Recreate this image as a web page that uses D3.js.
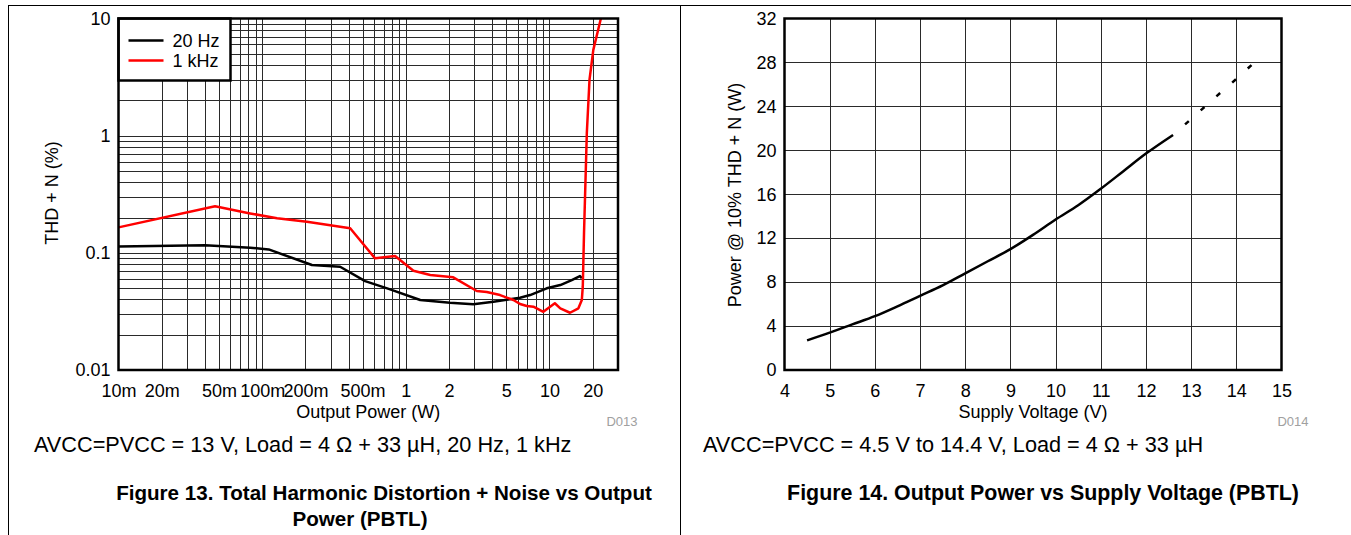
<!DOCTYPE html>
<html>
<head>
<meta charset="utf-8">
<script src="https://cdn.jsdelivr.net/npm/d3@7"></script>
<style>
body { margin: 0; background: #fff; }
svg { display: block; font-family: "Liberation Sans", Arial, Helvetica, sans-serif; }
</style>
</head>
<body>
<svg id="fig" width="1351" height="535"></svg>
<script>
// Figure 13 - THD+N vs output power (log / log)
var power20Hz = [0.01, 0.04, 0.0825, 0.111, 0.222, 0.349, 0.521, 0.778, 1.26, 2.03, 2.95, 4.07, 6.24, 7.33, 9.57, 11.9, 14.3, 16.3, 16.8];
var thd20Hz = [0.113, 0.116, 0.1105, 0.107, 0.0787, 0.0761, 0.0574, 0.0488, 0.0396, 0.0375, 0.0364, 0.0383, 0.0414, 0.0436, 0.0498, 0.0531, 0.0586, 0.0634, 0.0606];
var power1kHz = [0.01, 0.047, 0.0825, 0.127, 0.205, 0.41, 0.611, 0.842, 1.13, 1.48, 2.14, 3.12, 3.66, 4.53, 5.61, 6.24, 6.95, 7.73, 9.07, 10.9, 11.9, 13.9, 15.9, 16.8, 17.06, 17.4, 18.2, 19.0, 20.2, 22.8];
var thd1kHz = [0.165, 0.25, 0.217, 0.197, 0.184, 0.162, 0.0897, 0.094, 0.0703, 0.0647, 0.0618, 0.0472, 0.0463, 0.0436, 0.0396, 0.0366, 0.0352, 0.0347, 0.0314, 0.0371, 0.0336, 0.0308, 0.0336, 0.0396, 0.0514, 0.147, 1.05, 3.0, 5.4, 10];
var powerTicks = [0.01, 0.02, 0.05, 0.1, 0.2, 0.5, 1, 2, 5, 10, 20];
var powerTickLabels = ["10m", "20m", "50m", "100m", "200m", "500m", "1", "2", "5", "10", "20"];
var thdTicks = [0.01, 0.1, 1, 10];
var thdTickLabels = ["0.01", "0.1", "1", "10"];
var legendNames = ["20 Hz", "1 kHz"];
var legendColors = ["#000", "#ff0000"];

// Figure 14 - output power @10% THD+N vs supply voltage
var supplyV = [4.5, 5, 5.5, 6, 6.5, 7, 7.5, 8, 8.5, 9, 9.5, 10, 10.5, 11, 11.5, 12, 12.6];
var powerOut = [2.7, 3.4, 4.15, 4.9, 5.8, 6.75, 7.7, 8.8, 9.9, 11.0, 12.3, 13.7, 15.0, 16.5, 18.1, 19.7, 21.4];
var supplyVExt = [12.6, 13, 13.5, 14, 14.4];
var powerOutExt = [21.4, 22.85, 24.7, 26.5, 28.0];
var voltTicks = [4, 5, 6, 7, 8, 9, 10, 11, 12, 13, 14, 15];
var wattTicks = [0, 4, 8, 12, 16, 20, 24, 28, 32];

var svg = d3.select('#fig');
var gridColor = '#2a2a2a';
var fontSize = 18;
var captionSize = 21.7;

function zip(xs, ys) {
    return xs.map(function (x, i) { return [x, ys[i]]; });
}

// minor gridlines for a log range: 1..9 times each decade
function logGrid(lo, hi) {
    var out = [];
    for (var d = lo; d < hi; d *= 10) {
        for (var k = 1; k <= 9; k++) {
            var v = +(d * k).toPrecision(3);
            if (v > lo && v < hi) out.push(v);
        }
    }
    return out;
}

// page frame
svg.append('line').attr('x1', 8).attr('x2', 1351).attr('y1', 5.5).attr('y2', 5.5).attr('stroke', '#000');
svg.append('line').attr('x1', 8.5).attr('x2', 8.5).attr('y1', 5).attr('y2', 535).attr('stroke', '#000');
svg.append('line').attr('x1', 680.5).attr('x2', 680.5).attr('y1', 5).attr('y2', 535).attr('stroke', '#000');

/* ---------- Figure 13 ---------- */
var p1 = {left: 118.5, right: 618, top: 18.5, bottom: 370};
var x1 = d3.scaleLog().domain([0.01, 30]).range([p1.left, p1.right]);
var y1 = d3.scaleLog().domain([0.01, 10]).range([p1.bottom, p1.top]);
var g1 = svg.append('g');

g1.append('g')
    .attr('transform', 'translate(0,' + p1.bottom + ')')
    .call(d3.axisBottom(x1).tickValues(logGrid(0.01, 30)).tickSize(-(p1.bottom - p1.top)).tickFormat(''))
    .call(function (g) { g.select('.domain').remove(); })
    .selectAll('line').attr('stroke', gridColor).attr('shape-rendering', 'crispEdges');
g1.append('g')
    .attr('transform', 'translate(' + p1.left + ',0)')
    .call(d3.axisLeft(y1).tickValues(logGrid(0.01, 10)).tickSize(-(p1.right - p1.left)).tickFormat(''))
    .call(function (g) { g.select('.domain').remove(); })
    .selectAll('line').attr('stroke', gridColor).attr('shape-rendering', 'crispEdges');

svg.append('clipPath').attr('id', 'clip1').append('rect')
    .attr('x', p1.left).attr('y', p1.top).attr('width', p1.right - p1.left).attr('height', p1.bottom - p1.top);

var line1 = d3.line().x(function (d) { return x1(d[0]); }).y(function (d) { return y1(d[1]); });
g1.append('path').datum(zip(power20Hz, thd20Hz))
    .attr('d', line1).attr('fill', 'none').attr('stroke', legendColors[0]).attr('stroke-width', 2.5)
    .attr('stroke-linejoin', 'round').attr('clip-path', 'url(#clip1)');
g1.append('path').datum(zip(power1kHz, thd1kHz))
    .attr('d', line1).attr('fill', 'none').attr('stroke', legendColors[1]).attr('stroke-width', 2.5)
    .attr('stroke-linejoin', 'round').attr('clip-path', 'url(#clip1)');

// legend box in the top-left corner
var leg = g1.append('g');
leg.append('rect').attr('x', p1.left).attr('y', p1.top).attr('width', 112).attr('height', 62)
    .attr('fill', '#fff').attr('stroke', '#000').attr('stroke-width', 2.5);
legendNames.forEach(function (name, i) {
    var yy = p1.top + 22 + i * 20;
    leg.append('line').attr('x1', p1.left + 10).attr('x2', p1.left + 45).attr('y1', yy).attr('y2', yy)
        .attr('stroke', legendColors[i]).attr('stroke-width', 2.5);
    leg.append('text').attr('x', p1.left + 54).attr('y', yy).attr('dy', '0.35em')
        .attr('font-size', fontSize).text(name);
});

g1.append('rect').attr('x', p1.left).attr('y', p1.top).attr('width', p1.right - p1.left).attr('height', p1.bottom - p1.top)
    .attr('fill', 'none').attr('stroke', '#000').attr('stroke-width', 2.5);

// tick labels
g1.append('g')
    .attr('transform', 'translate(0,' + p1.bottom + ')')
    .call(d3.axisBottom(x1).tickValues(powerTicks).tickSize(0).tickPadding(14)
        .tickFormat(function (d, i) { return powerTickLabels[i]; }))
    .call(function (g) { g.select('.domain').remove(); })
    .selectAll('text').attr('font-size', fontSize).attr('fill', '#000').attr('font-family', null);
g1.append('g')
    .attr('transform', 'translate(' + p1.left + ',0)')
    .call(d3.axisLeft(y1).tickValues(thdTicks).tickSize(0).tickPadding(8)
        .tickFormat(function (d, i) { return thdTickLabels[i]; }))
    .call(function (g) { g.select('.domain').remove(); })
    .selectAll('text').attr('font-size', fontSize).attr('fill', '#000').attr('font-family', null);

g1.append('text').attr('x', (p1.left + p1.right) / 2).attr('y', 418).attr('text-anchor', 'middle')
    .attr('font-size', fontSize).text('Output Power (W)');
g1.append('text').attr('transform', 'translate(58,193) rotate(-90)').attr('text-anchor', 'middle')
    .attr('font-size', fontSize).text('THD + N (%)');
g1.append('text').attr('x', 622).attr('y', 426).attr('text-anchor', 'middle')
    .attr('font-size', 13).attr('fill', '#a0a0a0').text('D013');
g1.append('text').attr('x', 34).attr('y', 452).attr('font-size', captionSize)
    .text('AVCC=PVCC = 13 V, Load = 4 \u03A9 + 33 \u00B5H, 20 Hz, 1 kHz');
g1.append('text').attr('x', 384).attr('y', 500).attr('text-anchor', 'middle').attr('font-size', 20.6).attr('font-weight', 'bold')
    .text('Figure 13. Total Harmonic Distortion + Noise vs Output');
g1.append('text').attr('x', 360).attr('y', 526).attr('text-anchor', 'middle').attr('font-size', 20.6).attr('font-weight', 'bold')
    .text('Power (PBTL)');

/* ---------- Figure 14 ---------- */
var p2 = {left: 784.5, right: 1281.5, top: 18.5, bottom: 370};
var x2 = d3.scaleLinear().domain([4, 15]).range([p2.left, p2.right]);
var y2 = d3.scaleLinear().domain([0, 32]).range([p2.bottom, p2.top]);
var g2 = svg.append('g');

g2.append('g')
    .attr('transform', 'translate(0,' + p2.bottom + ')')
    .call(d3.axisBottom(x2).tickValues(voltTicks.slice(1, -1)).tickSize(-(p2.bottom - p2.top)).tickFormat(''))
    .call(function (g) { g.select('.domain').remove(); })
    .selectAll('line').attr('stroke', gridColor).attr('shape-rendering', 'crispEdges');
g2.append('g')
    .attr('transform', 'translate(' + p2.left + ',0)')
    .call(d3.axisLeft(y2).tickValues(wattTicks.slice(1, -1)).tickSize(-(p2.right - p2.left)).tickFormat(''))
    .call(function (g) { g.select('.domain').remove(); })
    .selectAll('line').attr('stroke', gridColor).attr('shape-rendering', 'crispEdges');

var line2 = d3.line().curve(d3.curveMonotoneX)
    .x(function (d) { return x2(d[0]); }).y(function (d) { return y2(d[1]); });
g2.append('path').datum(zip(supplyV, powerOut))
    .attr('d', line2).attr('fill', 'none').attr('stroke', '#000').attr('stroke-width', 2.5);
// extrapolated part drawn as short dashes
g2.append('path').datum(zip(supplyVExt, powerOutExt))
    .attr('d', line2).attr('fill', 'none').attr('stroke', '#000').attr('stroke-width', 2.5)
    .attr('stroke-dasharray', '5,16').attr('stroke-dashoffset', 5);

g2.append('rect').attr('x', p2.left).attr('y', p2.top).attr('width', p2.right - p2.left).attr('height', p2.bottom - p2.top)
    .attr('fill', 'none').attr('stroke', '#000').attr('stroke-width', 2.5);

g2.append('g')
    .attr('transform', 'translate(0,' + p2.bottom + ')')
    .call(d3.axisBottom(x2).tickValues(voltTicks).tickSize(0).tickPadding(14).tickFormat(d3.format('d')))
    .call(function (g) { g.select('.domain').remove(); })
    .selectAll('text').attr('font-size', fontSize).attr('fill', '#000').attr('font-family', null);
g2.append('g')
    .attr('transform', 'translate(' + p2.left + ',0)')
    .call(d3.axisLeft(y2).tickValues(wattTicks).tickSize(0).tickPadding(8).tickFormat(d3.format('d')))
    .call(function (g) { g.select('.domain').remove(); })
    .selectAll('text').attr('font-size', fontSize).attr('fill', '#000').attr('font-family', null);

g2.append('text').attr('x', (p2.left + p2.right) / 2).attr('y', 418).attr('text-anchor', 'middle')
    .attr('font-size', fontSize).text('Supply Voltage (V)');
g2.append('text').attr('transform', 'translate(741,195) rotate(-90)').attr('text-anchor', 'middle')
    .attr('font-size', fontSize).text('Power @ 10% THD + N (W)');
g2.append('text').attr('x', 1293).attr('y', 426).attr('text-anchor', 'middle')
    .attr('font-size', 13).attr('fill', '#a0a0a0').text('D014');
g2.append('text').attr('x', 703).attr('y', 452).attr('font-size', captionSize)
    .text('AVCC=PVCC = 4.5 V to 14.4 V, Load = 4 \u03A9 + 33 \u00B5H');
g2.append('text').attr('x', 1043).attr('y', 500).attr('text-anchor', 'middle').attr('font-size', 21.4).attr('font-weight', 'bold')
    .text('Figure 14. Output Power vs Supply Voltage (PBTL)');
</script>
</body>
</html>
